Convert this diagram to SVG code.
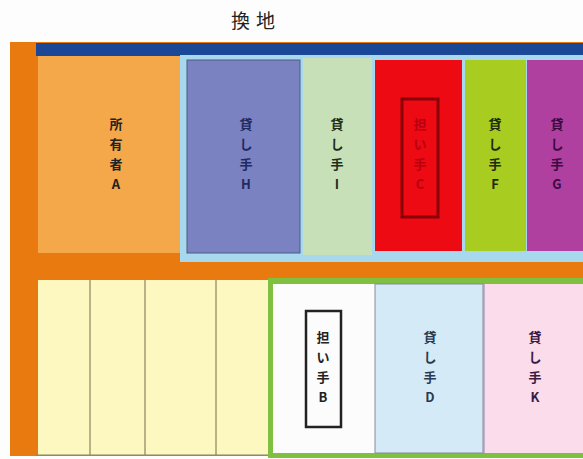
<svg xmlns="http://www.w3.org/2000/svg" width="583" height="459" viewBox="0 0 583 459">
<style>
.lbl{font-family:"Noto Sans CJK JP","Noto Sans",sans-serif;font-size:13px;font-weight:bold;text-anchor:middle;fill:#222}
.title{font-family:"Noto Sans CJK JP",sans-serif;font-size:19px;text-anchor:middle;fill:#222}
.div{stroke:#8a8460;stroke-width:1.2}
</style>
<rect width="583" height="459" fill="#fdfdfd"/>
<text class="title" x="256" y="28" letter-spacing="6">換地</text>
<rect x="10" y="42" width="573" height="414" fill="#e87a10"/>
<rect x="36" y="43" width="547" height="13" fill="#1a4796"/>
<rect x="180" y="55" width="403" height="207" fill="#a8d8ee"/>
<g id="ownerA">
<rect x="38" y="56" width="142" height="197" fill="#f5a84a"/>
<text class="lbl" x="116" y="129"><tspan x="116">所</tspan><tspan x="116" dy="20">有</tspan><tspan x="116" dy="20">者</tspan><tspan x="116" dy="20">A</tspan></text>
</g>
<g id="lenderH">
<rect x="187" y="60" width="113" height="193" fill="#7a82c2" stroke="#4a5a80" stroke-width="1"/>
<text class="lbl" x="246" y="129" style="fill:#1e2a60"><tspan x="246">貸</tspan><tspan x="246" dy="20">し</tspan><tspan x="246" dy="20">手</tspan><tspan x="246" dy="20">H</tspan></text>
</g>
<g id="lenderI">
<rect x="303" y="58" width="69" height="197" fill="#c8e0b8"/>
<text class="lbl" x="337" y="129" style="fill:#1e2e1a"><tspan x="337">貸</tspan><tspan x="337" dy="20">し</tspan><tspan x="337" dy="20">手</tspan><tspan x="337" dy="20">I</tspan></text>
</g>
<g id="bearerC">
<rect x="375" y="60" width="87" height="191" fill="#ee0a12"/>
<rect x="402" y="99" width="36" height="118" fill="none" stroke="#8a0008" stroke-width="3"/>
<text class="lbl" x="420" y="129" style="fill:#b80010"><tspan x="420">担</tspan><tspan x="420" dy="20">い</tspan><tspan x="420" dy="20">手</tspan><tspan x="420" dy="20">C</tspan></text>
</g>
<g id="lenderF">
<rect x="465" y="60" width="61" height="191" fill="#a8cc20"/>
<text class="lbl" x="495" y="129" style="fill:#1e2a10"><tspan x="495">貸</tspan><tspan x="495" dy="20">し</tspan><tspan x="495" dy="20">手</tspan><tspan x="495" dy="20">F</tspan></text>
</g>
<g id="lenderG">
<rect x="527" y="60" width="56" height="191" fill="#b040a0"/>
<text class="lbl" x="557" y="129" style="fill:#3a0a40"><tspan x="557">貸</tspan><tspan x="557" dy="20">し</tspan><tspan x="557" dy="20">手</tspan><tspan x="557" dy="20">G</tspan></text>
</g>
<g id="yellowPlots">
<rect x="38" y="280" width="232" height="175" fill="#fdf8c0"/>
<line class="div" x1="90" y1="280" x2="90" y2="455"/>
<line class="div" x1="145" y1="280" x2="145" y2="455"/>
<line class="div" x1="216" y1="280" x2="216" y2="455"/>
<line class="div" x1="36" y1="455" x2="270" y2="455"/>
</g>
<rect x="268" y="278" width="315" height="180" fill="#80c040"/>
<g id="bearerB">
<rect x="273" y="284" width="102" height="169" fill="#fcfcfc"/>
<rect x="306" y="311" width="35" height="116" fill="none" stroke="#222" stroke-width="2.5"/>
<text class="lbl" x="323" y="342"><tspan x="323">担</tspan><tspan x="323" dy="20">い</tspan><tspan x="323" dy="20">手</tspan><tspan x="323" dy="20">B</tspan></text>
</g>
<g id="lenderD">
<rect x="375" y="284" width="108" height="169" fill="#d4eaf6" stroke="#8a8a9a" stroke-width="1"/>
<text class="lbl" x="430" y="342" style="fill:#2a3a50"><tspan x="430">貸</tspan><tspan x="430" dy="20">し</tspan><tspan x="430" dy="20">手</tspan><tspan x="430" dy="20">D</tspan></text>
</g>
<g id="lenderK">
<rect x="484" y="284" width="99" height="169" fill="#fadcea"/>
<line x1="484" y1="284" x2="484" y2="453" stroke="#b8a0c0" stroke-width="1.5"/>
<text class="lbl" x="535" y="342" style="fill:#3a1a40"><tspan x="535">貸</tspan><tspan x="535" dy="20">し</tspan><tspan x="535" dy="20">手</tspan><tspan x="535" dy="20">K</tspan></text>
</g>
<g id="connectors"/>
</svg>
